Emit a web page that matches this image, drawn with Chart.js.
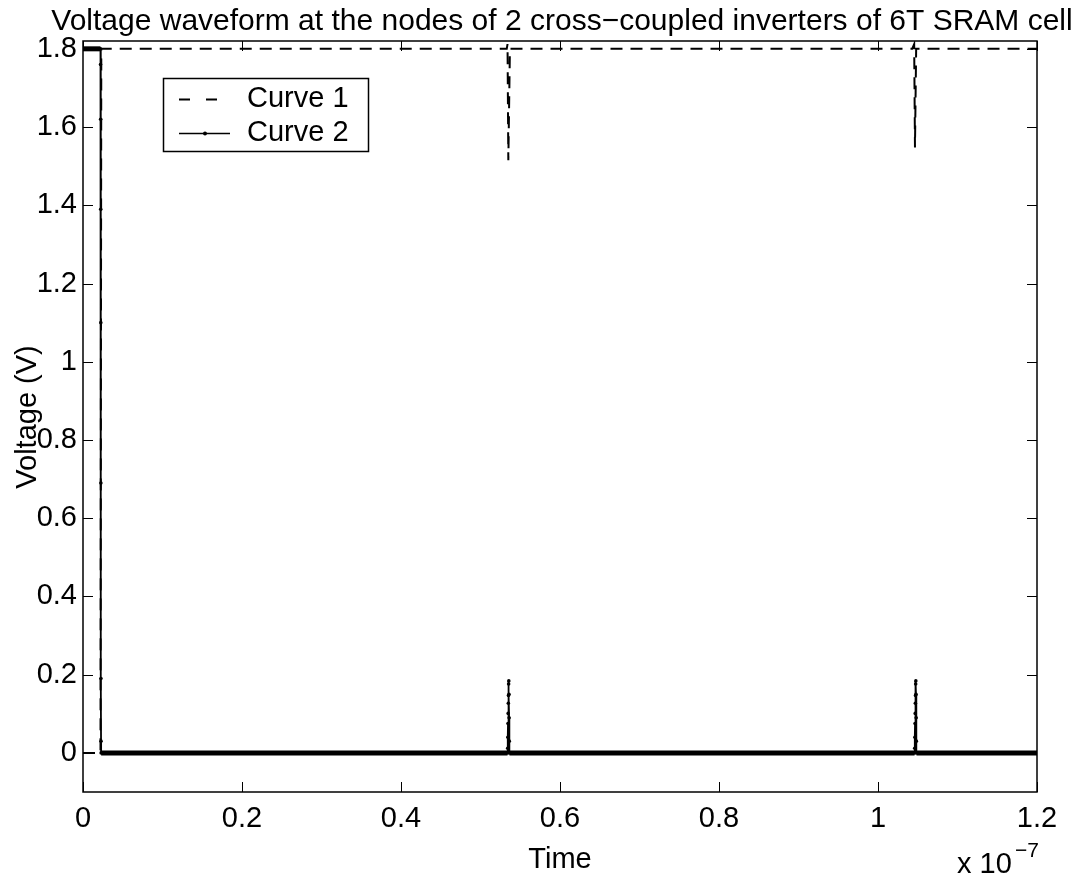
<!DOCTYPE html>
<html>
<head>
<meta charset="utf-8">
<script src="https://cdn.jsdelivr.net/npm/chart.js@4"></script>
<style>
  html, body { margin: 0; padding: 0; background: #fff; }
  #wrap { width: 1080px; height: 879px; }
</style>
</head>
<body>
<div id="wrap"><canvas id="chart" width="1080" height="879"></canvas></div>
<script>
// time in seconds, voltage in volts
const curve1Time = [0, 2.2e-9, 2.3e-9, 5.33e-8, 5.34e-8, 5.35e-8, 5.37e-8, 1.043e-7, 1.0455e-7, 1.0465e-7, 1.048e-7, 1.2e-7];
const curve1Volt = [0, 0, 1.8, 1.8, 1.812, 1.515, 1.8, 1.8, 1.812, 1.548, 1.8, 1.8];

const curve2Time = [
    0, 2.2e-9, 2.21e-9, 2.22e-9, 2.23e-9, 2.24e-9, 2.25e-9, 2.26e-9, 2.27e-9, 2.28e-9,
    5.340e-8, 5.342e-8, 5.344e-8, 5.346e-8, 5.348e-8, 5.350e-8, 5.352e-8, 5.354e-8, 5.356e-8,
    5.358e-8, 5.360e-8, 5.362e-8, 5.364e-8,
    1.0460e-7, 1.0462e-7, 1.0464e-7, 1.0466e-7, 1.0468e-7, 1.0470e-7, 1.0472e-7, 1.0474e-7, 1.0476e-7,
    1.0478e-7, 1.0480e-7, 1.0482e-7, 1.0484e-7,
    1.2e-7
];
const curve2Volt = [
    1.8, 1.8, 1.76, 1.62, 1.39, 1.1, 0.69, 0.19, 0.03, 0,
    0, 0.012, 0.04, 0.075, 0.101, 0.127, 0.147, 0.176, 0.184,
    0.15, 0.09, 0.03, 0,
    0, 0.012, 0.04, 0.075, 0.101, 0.127, 0.147, 0.176, 0.184,
    0.15, 0.09, 0.03, 0,
    0
];

const xTicks = [0, 0.2e-7, 0.4e-7, 0.6e-7, 0.8e-7, 1.0e-7, 1.2e-7];
const yTicks = [0, 0.2, 0.4, 0.6, 0.8, 1, 1.2, 1.4, 1.6, 1.8];
const xTickLabels = ["0", "0.2", "0.4", "0.6", "0.8", "1", "1.2"];

const FONT = '"Liberation Sans", Arial, Helvetica, sans-serif';

let toPoints = (xs, ys) => xs.map((x, i) => ({x: x, y: ys[i]}));

// frame, inward ticks on all sides, titles, legend
let matlabAxes = {
    id: "matlabAxes",
    afterDraw(chart) {
        let ctx = chart.ctx;
        let a = chart.chartArea;
        let xs = chart.scales.x, ys = chart.scales.y;
        ctx.save();
        ctx.strokeStyle = "#000";
        ctx.lineWidth = 1.5;
        ctx.strokeRect(a.left, a.top, a.right - a.left, a.bottom - a.top);
        ctx.lineWidth = 1;
        ctx.beginPath();
        xTicks.forEach(v => {
            let px = Math.round(xs.getPixelForValue(v)) + 0.5;
            ctx.moveTo(px, a.bottom); ctx.lineTo(px, a.bottom - 10);
            ctx.moveTo(px, a.top); ctx.lineTo(px, a.top + 10);
        });
        yTicks.forEach(v => {
            let py = Math.round(ys.getPixelForValue(v)) + 0.5;
            ctx.moveTo(a.left, py); ctx.lineTo(a.left + 10, py);
            ctx.moveTo(a.right, py); ctx.lineTo(a.right - 10, py);
        });
        ctx.stroke();

        ctx.fillStyle = "#000";
        ctx.font = "30px " + FONT;
        ctx.textBaseline = "alphabetic";
        ctx.textAlign = "center";
        ctx.fillText("Voltage waveform at the nodes of 2 cross\u2212coupled inverters of 6T SRAM cell", 562, 30);
        ctx.font = "29px " + FONT;
        ctx.fillText("Time", (a.left + a.right) / 2, 868);

        ctx.textAlign = "left";
        ctx.fillText("x 10", 957, 873);
        ctx.font = "21px " + FONT;
        ctx.fillText("\u22127", 1015, 857);

        ctx.save();
        ctx.font = "29px " + FONT;
        ctx.translate(36, 417);
        ctx.rotate(-Math.PI / 2);
        ctx.textAlign = "center";
        ctx.fillText("Voltage (V)", 0, 0);
        ctx.restore();

        // legend
        ctx.lineWidth = 1.5;
        ctx.strokeRect(163.5, 78.5, 205, 73);
        ctx.lineWidth = 2;
        ctx.setLineDash([11, 16]);
        ctx.beginPath();
        ctx.moveTo(179, 99.5); ctx.lineTo(219, 99.5);
        ctx.stroke();
        ctx.setLineDash([]);
        ctx.lineWidth = 1.5;
        ctx.beginPath();
        ctx.moveTo(179, 133.5); ctx.lineTo(230, 133.5);
        ctx.stroke();
        ctx.beginPath();
        ctx.arc(205, 133.5, 2, 0, Math.PI * 2);
        ctx.fill();
        ctx.font = "29px " + FONT;
        ctx.textBaseline = "middle";
        ctx.fillText("Curve 1", 247, 99);
        ctx.fillText("Curve 2", 247, 133);
        ctx.restore();
    }
};

new Chart(document.getElementById("chart").getContext("2d"), {
    type: "line",
    data: {
        datasets: [{
            label: "Curve 1",
            data: toPoints(curve1Time, curve1Volt),
            borderColor: "#000",
            borderWidth: 2,
            borderDash: [12, 8],
            pointRadius: 0,
            tension: 0
        }, {
            label: "Curve 2",
            data: toPoints(curve2Time, curve2Volt),
            borderColor: "#000",
            backgroundColor: "#000",
            borderWidth: 1.8,
            pointRadius: 1.8,
            pointBorderWidth: 0,
            pointBackgroundColor: "#000",
            tension: 0,
            segment: {
                borderWidth: c => c.p0.parsed.y === c.p1.parsed.y ? 5 : 1.8
            }
        }]
    },
    options: {
        responsive: false,
        animation: false,
        devicePixelRatio: 1,
        layout: { padding: { left: 0, right: 43, top: 41, bottom: 0 } },
        plugins: {
            legend: { display: false },
            tooltip: { enabled: false }
        },
        scales: {
            x: {
                type: "linear",
                min: 0,
                max: 1.2e-7,
                afterFit: s => { s.height = 87; },
                afterBuildTicks: s => { s.ticks = xTicks.map(v => ({value: v})); },
                grid: { display: false, drawTicks: false },
                border: { display: false },
                ticks: {
                    padding: 10,
                    color: "#000",
                    font: { family: FONT, size: 29 },
                    maxRotation: 0,
                    autoSkip: false,
                    callback: (v, i) => xTickLabels[i]
                }
            },
            y: {
                min: -0.1,
                max: 1.82,
                afterFit: s => { s.width = 83; },
                afterBuildTicks: s => { s.ticks = yTicks.map(v => ({value: v})); },
                grid: { display: false, drawTicks: false },
                border: { display: false },
                ticks: {
                    padding: 6,
                    color: "#000",
                    font: { family: FONT, size: 29 },
                    autoSkip: false,
                    callback: v => String(Math.round(v * 10) / 10)
                }
            }
        }
    },
    plugins: [matlabAxes]
});
</script>
</body>
</html>
